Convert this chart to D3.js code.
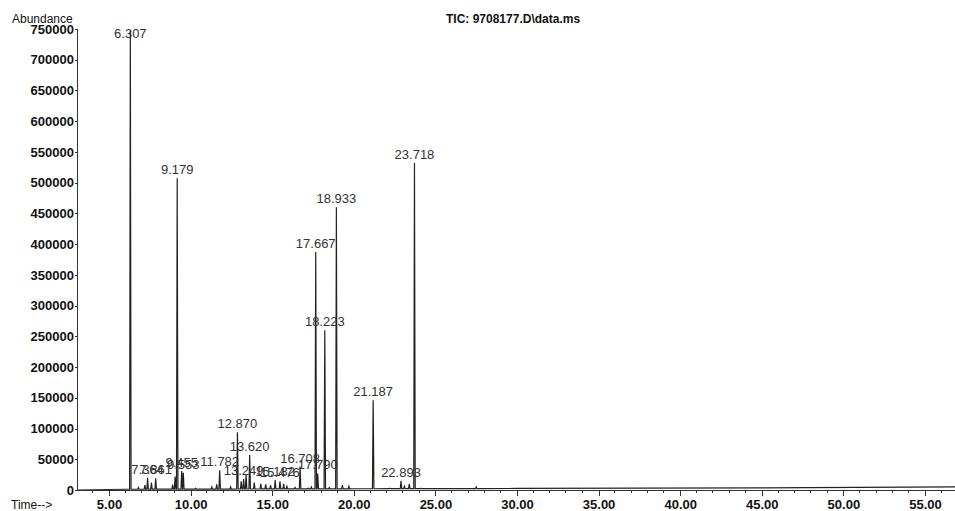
<!DOCTYPE html>
<html lang="en">
<head>
    <meta charset="UTF-8">
    <title>TIC: 9708177.D\data.ms</title>
    <script src="https://d3js.org/d3.v7.min.js"></script>
    <style>
        body {
            margin: 0;
            padding: 0;
            background: #fff;
            font-family: Arial, "Liberation Sans", Helvetica, sans-serif;
        }
        svg { display: block; }
        .axis path, .axis line {
            fill: none;
            stroke: #333;
            shape-rendering: crispEdges;
        }
        .axis text {
            font-family: Arial, "Liberation Sans", sans-serif;
            font-size: 13px;
            font-weight: bold;
            fill: #111;
        }
        .trace {
            fill: none;
            stroke: #222;
            stroke-width: 1.2px;
        }
        .peak-label {
            font-size: 13px;
            fill: #333;
            text-anchor: middle;
        }
    </style>
</head>
<body>
    <svg width="955" height="511"></svg>

    <script>
        // Labelled peaks: retention time (min) and abundance
        const labelledTimes = [6.307, 7.364, 7.861, 9.179, 9.455, 9.553, 11.782, 12.870, 13.249, 13.620,
                               15.182, 15.476, 16.708, 17.667, 17.790, 18.223, 18.933, 21.187, 22.893, 23.718];
        const labelledHeights = [748000, 20000, 19000, 507000, 31000, 28000, 32000, 94000, 18000, 57000,
                                 16000, 14000, 38000, 387000, 27000, 260000, 460000, 146000, 15000, 532000];

        // Smaller unlabelled peaks
        const minorTimes = [6.8, 7.2, 7.6, 8.9, 9.05, 10.3, 11.3, 11.6, 12.45, 13.1, 13.4, 13.9, 14.3, 14.6,
                            14.9, 15.7, 15.9, 16.4, 17.2, 17.4, 18.5, 19.3, 19.7, 20.5, 22.2, 23.1, 23.4, 24.1, 27.5];
        const minorHeights = [4000, 8000, 12000, 9000, 22000, 3000, 5000, 9000, 5000, 14000, 25000, 12000, 10000, 9000,
                              8000, 10000, 6000, 4000, 3000, 5000, 4000, 8000, 6000, 2000, 3000, 6000, 10000, 3000, 5000];

        // Baseline level read along the run
        const baseTimes = [3.1, 6.0, 20.0, 30.0, 45.0, 56.84];
        const baseLevels = [0, 1200, 2000, 2500, 3500, 5000];

        const yTicks = d3.range(0, 750001, 50000);
        const xTicks = [5, 10, 15, 20, 25, 30, 35, 40, 45, 50, 55];

        const svg = d3.select("svg");
        const plotLeft = 78, plotBottom = 490, plotTop = 29;

        const x = d3.scaleLinear().domain([3.1, 56.84]).range([plotLeft, 955]);
        const y = d3.scaleLinear().domain([0, 750000]).range([plotBottom, plotTop]);
        const base = d3.scaleLinear().domain(baseTimes).range(baseLevels);

        // Build the trace from the baseline and the peak apexes
        const peaks = labelledTimes.map((t, i) => ({ t, h: labelledHeights[i] }))
            .concat(minorTimes.map((t, i) => ({ t, h: minorHeights[i] })));
        const w = 0.045;
        let pts = baseTimes.map((t, i) => [t, baseLevels[i]]);
        peaks.forEach(p => {
            pts.push([p.t - w, base(p.t - w)]);
            pts.push([p.t, p.h]);
            pts.push([p.t + w, base(p.t + w)]);
        });
        pts.sort((a, b) => a[0] - b[0]);

        svg.append("path")
            .datum(pts)
            .attr("class", "trace")
            .attr("d", d3.line().x(d => x(d[0])).y(d => y(d[1])));

        // Axes
        const yAxis = svg.append("g")
            .attr("class", "axis")
            .attr("transform", `translate(${plotLeft},0)`)
            .call(d3.axisLeft(y).tickValues(yTicks).tickSize(3).tickPadding(1).tickFormat(d3.format("d")));
        yAxis.select(".domain").attr("d", `M-0.5,${plotTop}V${plotBottom}`);

        const xAxis = svg.append("g")
            .attr("class", "axis")
            .attr("transform", `translate(0,${plotBottom})`)
            .call(d3.axisBottom(x).tickValues(xTicks).tickSize(6).tickPadding(4).tickFormat(d3.format(".2f")));
        xAxis.select(".domain").attr("d", `M${plotLeft},0.5H955`);

        // minor ticks every minute
        xAxis.selectAll(".minor")
            .data(d3.range(4, 57).filter(t => t % 5 !== 0))
            .enter()
            .append("line")
            .attr("class", "minor")
            .attr("x1", d => x(d)).attr("x2", d => x(d))
            .attr("y1", 0).attr("y2", 3);

        // Peak labels
        svg.selectAll(".peak-label")
            .data(labelledTimes.map((t, i) => ({ t, h: labelledHeights[i] })))
            .enter()
            .append("text")
            .attr("class", "peak-label")
            .attr("x", d => x(d.t))
            .attr("y", d => Math.max(y(d.h) - 4, 38))
            .text(d => d.t.toFixed(3));

        // Titles
        svg.append("text")
            .attr("x", 12).attr("y", 23)
            .style("font-size", "12px").style("fill", "#111")
            .text("Abundance");

        svg.append("text")
            .attr("x", 446).attr("y", 23)
            .style("font-size", "12px").style("font-weight", "bold").style("fill", "#111")
            .text("TIC: 9708177.D\\data.ms");

        svg.append("text")
            .attr("x", 11).attr("y", 509)
            .style("font-size", "12px").style("fill", "#111")
            .text("Time-->");
    </script>
</body>
</html>
